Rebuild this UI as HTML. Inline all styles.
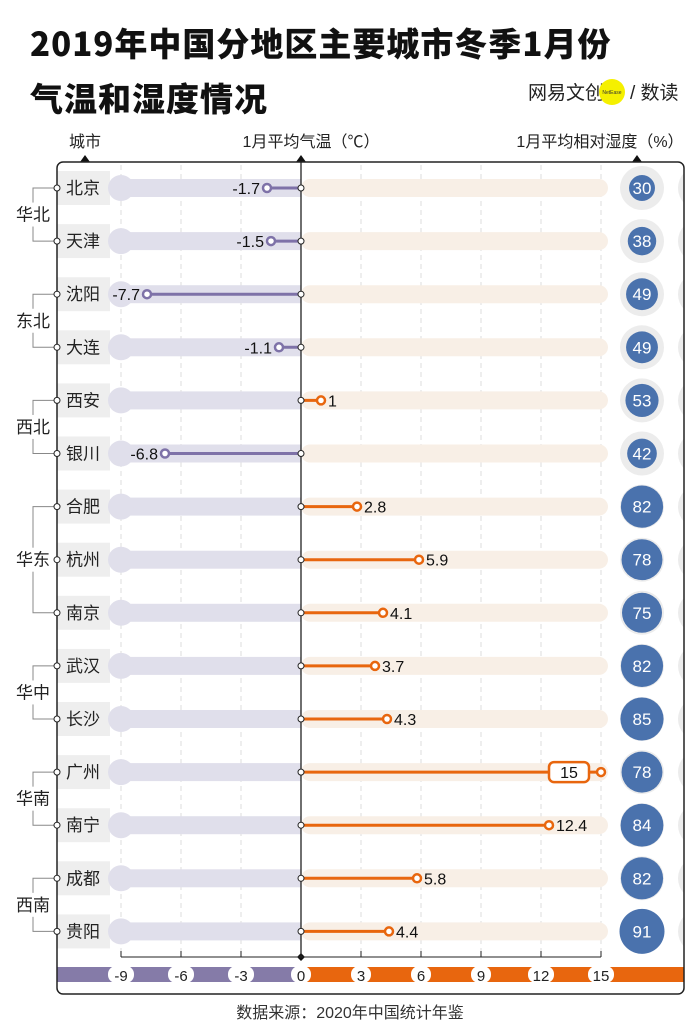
<!DOCTYPE html>
<html><head><meta charset="utf-8">
<style>
body{margin:0;background:#fff;font-family:"Liberation Sans","Noto Sans CJK SC",sans-serif;}
#wrap{position:relative;width:700px;height:1033px;overflow:hidden;}
h1{position:absolute;left:30px;margin:0;font-size:33px;font-weight:900;color:#111;letter-spacing:1px;font-family:"Noto Sans CJK SC","Liberation Sans",sans-serif;}
</style></head>
<body>
<div id="wrap">
<h1 style="top:18px">2019年中国分地区主要城市冬季1月份</h1>
<h1 style="top:73px">气温和湿度情况</h1>
<svg id="svg" width="700" height="1033" style="position:absolute;left:0;top:0"></svg>
</div>
<script>
const cities=["北京","天津","沈阳","大连","西安","银川","合肥","杭州","南京","武汉","长沙","广州","南宁","成都","贵阳"];
const temps=[-1.7,-1.5,-7.7,-1.1,1,-6.8,2.8,5.9,4.1,3.7,4.3,15,12.4,5.8,4.4];
const humid=[30,38,49,49,53,42,82,78,75,82,85,78,84,82,91];
const regions=["华北","东北","西北","华东","华中","华南","西南"];
const regionStart=[0,2,4,6,9,11,13];
const regionEnd=[1,3,5,8,10,12,14];
const ticks=[-9,-6,-3,0,3,6,9,12,15];

const NS="http://www.w3.org/2000/svg";
const svg=document.getElementById('svg');
function mk(t,a,p){const e=document.createElementNS(NS,t);for(const k in a)e.setAttribute(k,a[k]);(p||svg).appendChild(e);return e;}
function X(v){return 301+v*20;}
function Y(i){return 188+i*53.1;}
function R(h){return 8.3+0.156*h;}
const F='"Liberation Sans","Noto Sans CJK SC",sans-serif';

let t=mk('text',{x:528,y:99,'font-size':19,fill:'#222','font-family':F});t.textContent='网易文创';

let c=mk('circle',{cx:612,cy:92,r:13,fill:'#f5f000'});

t=mk('text',{x:612,y:94,'font-size':5,'text-anchor':'middle',fill:'#333','font-family':F});t.textContent='NetEase';

t=mk('text',{x:630,y:99,'font-size':19,fill:'#222','font-family':F});t.textContent='/ 数读';


[[85,'城市','header-city'],[311,'1月平均气温（℃）','header-temp'],[600,'1月平均相对湿度（%）','header-humidity']].forEach(h=>{
 const e=mk('text',{x:h[0],y:147,'font-size':16,'text-anchor':'middle',fill:'#222','font-family':F});e.textContent=h[1];
 
});
[85,301,637].forEach(x=>{const p=mk('polygon',{points:`${x-5},162 ${x+5},162 ${x},155`,fill:'#111'});
 });

const defs=mk('defs',{});const cp=mk('clipPath',{id:'fc'},defs);mk('rect',{x:57,y:162,width:627,height:832,rx:6},cp);
const g=mk('g',{'clip-path':'url(#fc)'});

ticks.forEach(v=>{if(v===0)return;const l=mk('line',{x1:X(v),x2:X(v),y1:165,y2:955,stroke:'#ddd','stroke-dasharray':'5,4'},g);
 });

cities.forEach((name,i)=>{
 const y=Y(i);
 let r=mk('rect',{x:57,y:y-17,width:53,height:34,fill:'#eeeeee'},g);
 
 r=mk('rect',{x:X(-9),y:y-9,width:X(0)-X(-9),height:18,fill:'#e0dfeb'},g);
 
 r=mk('circle',{cx:X(-9),cy:y,r:13,fill:'#e0dfeb'},g);
 
 r=mk('rect',{x:X(0),y:y-9,width:X(15)-X(0)+7,height:18,rx:9,fill:'#f8efe6'},g);
 
 r=mk('circle',{cx:700,cy:y,r:22,fill:'#ececec'},g);
 
 r=mk('circle',{cx:642,cy:y,r:22,fill:'#ececec'},g);
 
 r=mk('circle',{cx:642,cy:y,r:R(humid[i]),fill:'#4a72ad'},g);
 
 let tx=mk('text',{x:642,y:y+6,'font-size':17,'text-anchor':'middle',fill:'#fff','font-family':F},g);tx.textContent=humid[i];
 
 tx=mk('text',{x:83,y:y+6,'font-size':17,'text-anchor':'middle',fill:'#222','font-family':F},g);tx.textContent=name;
 
 const v=temps[i],col=v<0?'#7e72a8':'#e8660e';
 let l=mk('line',{x1:X(0),x2:X(v),y1:y,y2:y,stroke:col,'stroke-width':3},g);
 
 let d=mk('circle',{cx:X(v),cy:y,r:4,fill:'#fff',stroke:col,'stroke-width':2.5},g);
 
 if(v>=15){
  let b=mk('rect',{x:X(v)-52,y:y-10,width:40,height:20,rx:5,fill:'#fff',stroke:col,'stroke-width':2.5},g);
  
  tx=mk('text',{x:X(v)-32,y:y+6,'font-size':16,'text-anchor':'middle',fill:'#111','font-family':F},g);
 } else if(v<0){
  tx=mk('text',{x:X(v)-7,y:y+6,'font-size':16,'text-anchor':'end',fill:'#111','font-family':F},g);
 } else {
  tx=mk('text',{x:X(v)+7,y:y+6,'font-size':16,fill:'#111','font-family':F},g);
 }
 tx.textContent=v;
 
});

let za=mk('line',{x1:301,x2:301,y1:162,y2:957,stroke:'#222','stroke-width':1.3},g);

cities.forEach((n,i)=>{const d=mk('circle',{cx:301,cy:Y(i),r:3,fill:'#fff',stroke:'#222','stroke-width':1},g);
 });
mk('polygon',{points:'297,957 301,953 305,957 301,961',fill:'#111'},g);

let ax=mk('line',{x1:X(-9),x2:X(15),y1:957,y2:957,stroke:'#222','stroke-width':1},g);

let nb=mk('rect',{x:57,y:967,width:244,height:15,fill:'#857ba8'},g);

let pb=mk('rect',{x:301,y:967,width:400,height:15,fill:'#e8660e'},g);

ticks.forEach(v=>{
 let tk=mk('line',{x1:X(v),x2:X(v),y1:951,y2:957,stroke:'#222'},g);
 
 const w=v>=10||v<0?26:20;
 let bg=mk('rect',{x:X(v)-w/2,y:966,width:w,height:17,rx:8,fill:'#fff'},g);
 
 let tl=mk('text',{x:X(v),y:981,'font-size':15,'text-anchor':'middle',fill:'#222','font-family':F},g);tl.textContent=v;
 
});

let fr=mk('rect',{x:57,y:162,width:627,height:832,rx:6,fill:'none',stroke:'#222','stroke-width':1.5});


regions.forEach((rg,k)=>{
 const y1=Y(regionStart[k]),y2=Y(regionEnd[k]);
 const p=mk('path',{d:`M57,${y1}H33V${y2}H57`,fill:'none',stroke:'#888','stroke-width':1});
 
 const tb=mk('rect',{x:12,y:(y1+y2)/2-12,width:44,height:24,fill:'#fff'});
 
 const tt=mk('text',{x:33,y:(y1+y2)/2+6,'font-size':17,'text-anchor':'middle',fill:'#222','font-family':F});tt.textContent=rg;
 
 for(let i=regionStart[k];i<=regionEnd[k];i++){
  const d=mk('circle',{cx:57,cy:Y(i),r:3,fill:'#fff',stroke:'#222','stroke-width':1});
  
 }
});

t=mk('text',{x:350,y:1018,'font-size':16,'text-anchor':'middle',fill:'#333','font-family':F});t.textContent='数据来源：2020年中国统计年鉴';

</script>
</body></html>
